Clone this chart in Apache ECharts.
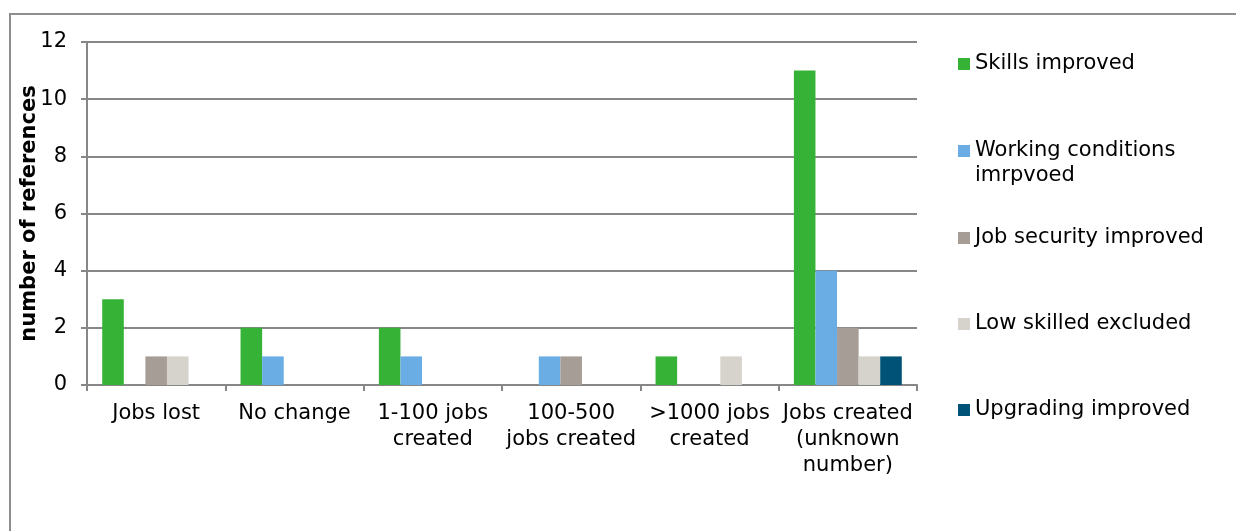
<!DOCTYPE html>
<html>
<head>
<meta charset="utf-8">
<script src="https://cdn.jsdelivr.net/npm/echarts@6/dist/echarts.min.js"></script>
<style>
  html, body { margin: 0; padding: 0; background: #ffffff; }
  #chart { width: 1236px; height: 531px; }
</style>
</head>
<body>
<div id="chart"></div>
<script>
// Outcome categories along the x axis
const categories = [
  'Jobs lost',
  'No change',
  '1-100 jobs\ncreated',
  '100-500\njobs created',
  '>1000 jobs\ncreated',
  'Jobs created\n(unknown\nnumber)'
];

// Number of references per outcome, one array per effect
const skillsImproved = [3, 2, 2, 0, 1, 11];
const workingConditionsImproved = [0, 1, 1, 1, 0, 4];
const jobSecurityImproved = [1, 0, 0, 1, 0, 2];
const lowSkilledExcluded = [1, 0, 0, 0, 1, 1];
const upgradingImproved = [0, 0, 0, 0, 0, 1];

const seriesNames = [
  'Skills improved',
  'Working conditions imrpvoed',
  'Job security improved',
  'Low skilled excluded',
  'Upgrading improved'
];
const seriesValues = [
  skillsImproved,
  workingConditionsImproved,
  jobSecurityImproved,
  lowSkilledExcluded,
  upgradingImproved
];
const seriesColors = ['#36b236', '#6aade4', '#a69d96', '#d6d3cc', '#005376'];

const FONT = 'DejaVu Sans';
const FONT_SIZE = 21;
const GRID_COLOR = '#878787';

// Legend entries: vertical centre of each icon row on the right-hand side
const legendRowCentres = [64, 151, 238, 324, 410];
const legendLineHeight = 25;

const legends = seriesNames.map((name, i) => {
  const twoLine = name === 'Working conditions imrpvoed';
  // the long entry wraps; a leading empty line keeps the icon on the first text line
  const lines = twoLine ? 3 : 1;
  return {
    orient: 'vertical',
    left: 958,
    top: legendRowCentres[i] - (lines * legendLineHeight) / 2,
    padding: 0,
    itemWidth: 12,
    itemHeight: 12,
    itemGap: 0,
    icon: 'rect',
    selectedMode: true,
    data: [name],
    formatter: twoLine ? () => '\nWorking conditions\nimrpvoed' : undefined,
    textStyle: {
      fontFamily: FONT,
      fontSize: FONT_SIZE,
      color: '#000000',
      lineHeight: legendLineHeight
    }
  };
});

const chart = echarts.init(document.getElementById('chart'), null, { renderer: 'canvas' });

chart.setOption({
  backgroundColor: '#ffffff',
  animation: false,
  textStyle: { fontFamily: FONT },
  graphic: [{
    type: 'rect',
    silent: true,
    shape: { x: 10, y: 14, width: 1400, height: 700 },
    style: { fill: 'none', stroke: '#8e8e8e', lineWidth: 2 }
  }],
  legend: legends,
  grid: {
    left: 87,
    right: 319,
    top: 42,
    bottom: 146,
    containLabel: false
  },
  xAxis: {
    type: 'category',
    data: categories,
    boundaryGap: true,
    axisLine: { show: true, lineStyle: { color: GRID_COLOR, width: 2 } },
    axisTick: {
      show: true,
      alignWithLabel: false,
      inside: false,
      length: 6,
      lineStyle: { color: GRID_COLOR, width: 2 }
    },
    axisLabel: {
      interval: 0,
      margin: 16,
      fontFamily: FONT,
      fontSize: FONT_SIZE,
      lineHeight: 26,
      color: '#000000',
      align: 'center',
      verticalAlign: 'top'
    },
    splitLine: { show: false }
  },
  yAxis: {
    type: 'value',
    min: 0,
    max: 12,
    interval: 2,
    name: 'number of references',
    nameLocation: 'middle',
    nameGap: 47,
    nameMoveOverlap: false,
    nameRotate: 90,
    nameTextStyle: {
      fontFamily: FONT,
      fontSize: FONT_SIZE,
      fontWeight: 'bold',
      color: '#000000'
    },
    axisLine: { show: true, lineStyle: { color: GRID_COLOR, width: 2 } },
    axisTick: { show: true, inside: false, length: 6, lineStyle: { color: GRID_COLOR, width: 2 } },
    axisLabel: {
      margin: 20,
      fontFamily: FONT,
      fontSize: FONT_SIZE,
      color: '#000000'
    },
    splitLine: { show: true, lineStyle: { color: GRID_COLOR, width: 2 } }
  },
  series: seriesNames.map((name, i) => ({
    name: name,
    type: 'bar',
    data: seriesValues[i],
    barGap: '0%',
    barCategoryGap: '22%',
    itemStyle: { color: seriesColors[i] },
    emphasis: { disabled: true }
  }))
});
</script>
</body>
</html>
